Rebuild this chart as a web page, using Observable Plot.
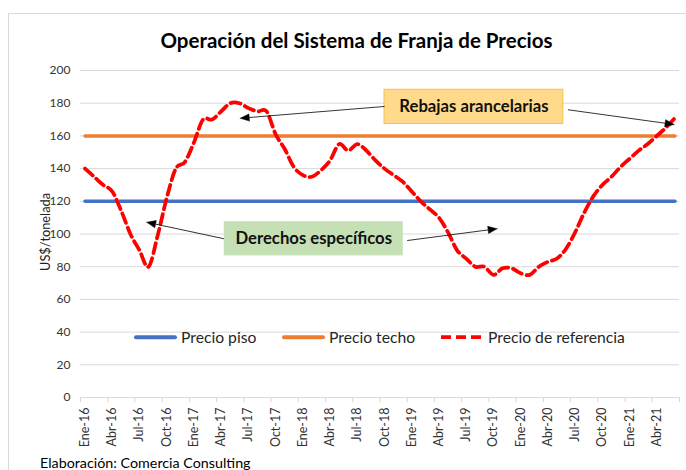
<!DOCTYPE html>
<html>
<head>
<meta charset="utf-8">
<script src="https://cdn.jsdelivr.net/npm/d3@7"></script>
<script src="https://cdn.jsdelivr.net/npm/@observablehq/plot@0.6"></script>
<style>
  html, body { margin: 0; padding: 0; background: #fff; }
  body { width: 686px; height: 470px; overflow: hidden; font-family: Lato, "Noto Sans", sans-serif; }
  #wrap { position: relative; width: 686px; height: 470px; }
  #border { position: absolute; left: 8px; top: 13px; width: 720px; height: 500px; border: 1px solid #D9D9D9; box-sizing: border-box; }
  #chart { position: absolute; left: 0; top: 0; }
  .title { position: absolute; left: 356.5px; top: 40px; transform: translate(-50%, -50%); font-weight: 700; font-size: 20.5px; color: #000; white-space: nowrap; }
  .ylabel { position: absolute; left: 45px; top: 232px; transform: translate(-50%, -50%) rotate(-90deg); font-size: 12.8px; color: #222; white-space: nowrap; }
  .caption { position: absolute; left: 40px; top: 462px; transform: translateY(-50%); font-size: 14.3px; color: #000; white-space: nowrap; }
  .leg { position: absolute; top: 337px; transform: translateY(-50%); font-size: 15.7px; color: #262626; white-space: nowrap; }
  .sw { position: absolute; top: 337px; transform: translateY(-50%); height: 4px; }
</style>
</head>
<body>
<div id="wrap">
  <div id="border"></div>
  <div id="chart"></div>
  <div class="title">Operación del Sistema de Franja de Precios</div>
  <div class="ylabel">US$/tonelada</div>
  <div class="caption">Elaboración: Comercia Consulting</div>
  <div class="sw" style="left:134px;width:43px;height:3.5px;background:#4472C4;border-radius:2px"></div>
  <div class="leg" style="left:181px">Precio piso</div>
  <div class="sw" style="left:282px;width:43px;height:3.5px;background:#ED7D31;border-radius:2px"></div>
  <div class="leg" style="left:329px">Precio techo</div>
  <svg class="sw" style="left:440px;width:43px;height:4px" viewBox="0 0 43 4"><line x1="1" y1="2" x2="43" y2="2" stroke="#FF0000" stroke-width="3.75" stroke-dasharray="10,5"/></svg>
  <div class="leg" style="left:488px">Precio de referencia</div>
</div>
<script>
// ---- Data ----
const months = ["Ene","Feb","Mar","Abr","May","Jun","Jul","Ago","Sep","Oct","Nov","Dic"];
const startYear = 16;
const precioReferencia = [
  140,135,130,126,114,100,90,80,99,122,
  140,144,156,170,170,175,180,180,177,175,
  175,161,152,141,136,135,139,145,155,151,
  155,151,145,140,136,132,126,120,115,110,
  101,90,85,80,80,75,79,79,76,75,
  80,83,85,91,101,113,123,130,135,141,
  146,151,155,160,165,171
];
const precioPiso = 120;
const precioTecho = 160;
const yTicks = [0,20,40,60,80,100,120,140,160,180,200];
const monthLabels = precioReferencia.map((_, i) => `${months[i % 12]}-${startYear + Math.floor(i / 12)}`);
const labelTicks = d3.range(0, precioReferencia.length, 3);
const boundaryTicks = d3.range(-0.5, precioReferencia.length, 3);

// annotation boxes and arrows (data coordinates: month index, US$/t)
const boxes = [
  {label: "Rebajas arancelarias", x1: 33.0, x2: 52.7, y1: 167.3, y2: 188.2, fill: "#FFD98C", stroke: "#F6C244"},
  {label: "Derechos específicos", x1: 15.4, x2: 35.0, y1: 86.9, y2: 107.2, fill: "#C5E0B4", stroke: "#C5E0B4"}
];
const arrows = [
  {x1: 33.0, y1: 178.0, x2: 17.1, y2: 170.8},
  {x1: 53.2, y1: 176.0, x2: 64.9, y2: 167.0},
  {x1: 15.3, y1: 97.1, x2: 6.8, y2: 107.2},
  {x1: 35.5, y1: 96.0, x2: 45.4, y2: 103.2}
];

// ---- Scales / geometry ----
const W = 686, H = 470;
const mL = 80, mR = 7, mT = 70, mB = 73;
const xDomain = [-0.5, precioReferencia.length - 0.5];
const yDomain = [0, 200];
const xs = Plot.scale({x: {domain: xDomain, range: [mL, W - mR]}});
const ys = Plot.scale({y: {domain: yDomain, range: [H - mB, mT]}});

const refData = precioReferencia.map((v, i) => ({i, v}));
const pisoData = precioReferencia.map((_, i) => ({i, v: precioPiso}));
const techoData = precioReferencia.map((_, i) => ({i, v: precioTecho}));

// arrow shafts and filled heads, computed in pixel space via the scales
const headLen = 9, headHalf = 3.6;
const shafts = [], heads = [];
arrows.forEach((a, k) => {
  const px1 = xs.apply(a.x1), py1 = ys.apply(a.y1);
  const px2 = xs.apply(a.x2), py2 = ys.apply(a.y2);
  const dx = px2 - px1, dy = py2 - py1, L = Math.hypot(dx, dy);
  const ux = dx / L, uy = dy / L;
  const bx = px2 - ux * headLen, by = py2 - uy * headLen;
  shafts.push({x1: a.x1, y1: a.y1, x2: xs.invert(bx), y2: ys.invert(by)});
  const pts = [[px2, py2], [bx - uy * headHalf, by + ux * headHalf], [bx + uy * headHalf, by - ux * headHalf], [px2, py2]];
  pts.forEach(([x, y]) => heads.push({k, x: xs.invert(x), y: ys.invert(y)}));
});

const chart = Plot.plot({
  width: W, height: H,
  marginLeft: mL, marginRight: mR, marginTop: mT, marginBottom: mB,
  style: {fontFamily: "Lato, 'Noto Sans', sans-serif", background: "transparent", overflow: "visible"},
  x: {domain: xDomain},
  y: {domain: yDomain},
  marks: [
    Plot.gridY(yTicks, {stroke: "#D9D9D9", strokeOpacity: 1, strokeWidth: 1}),
    Plot.axisY({ticks: yTicks, tickSize: 0, tickPadding: 10, fontSize: 12, fill: "#333", label: null}),
    Plot.axisX({ticks: boundaryTicks, tickSize: 5, stroke: "#D9D9D9", strokeOpacity: 1, text: null, label: null}),
    Plot.axisX({ticks: labelTicks, tickSize: 0, tickPadding: 10, tickRotate: -90, fontSize: 12.5, fill: "#333",
      tickFormat: d => monthLabels[d], label: null}),
    Plot.line(pisoData, {x: "i", y: "v", stroke: "#4472C4", strokeWidth: 3.5, strokeLinecap: "round"}),
    Plot.line(techoData, {x: "i", y: "v", stroke: "#ED7D31", strokeWidth: 3.5, strokeLinecap: "round"}),
    Plot.line(refData, {x: "i", y: "v", stroke: "#FF0000", strokeWidth: 3.75, strokeDasharray: "10,5", curve: "cardinal"}),
    Plot.rect(boxes, {x1: "x1", x2: "x2", y1: "y1", y2: "y2", fill: "fill", stroke: "stroke", strokeWidth: 1}),
    Plot.text(boxes, {x: d => (d.x1 + d.x2) / 2, y: d => (d.y1 + d.y2) / 2, text: "label", fontSize: 16.7, fontWeight: 700, fill: "#111"}),
    Plot.link(shafts, {x1: "x1", y1: "y1", x2: "x2", y2: "y2", stroke: "#000", strokeWidth: 0.8}),
    Plot.line(heads, {x: "x", y: "y", z: "k", fill: "#000", stroke: "#000", strokeWidth: 0.5})
  ]
});
document.getElementById("chart").appendChild(chart);
</script>
</body>
</html>
